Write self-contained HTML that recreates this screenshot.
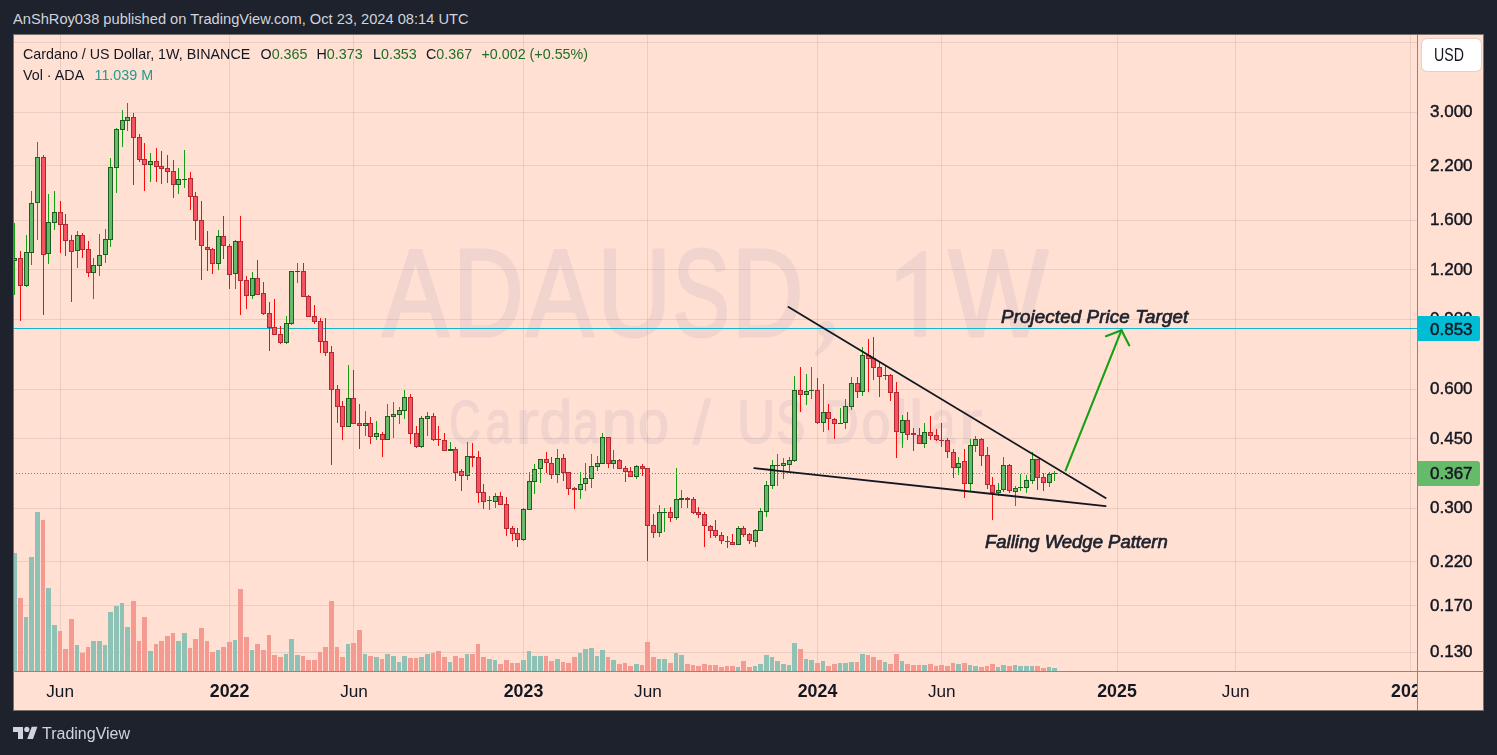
<!DOCTYPE html>
<html><head><meta charset="utf-8">
<style>
html,body{margin:0;padding:0;}
body{width:1497px;height:755px;background:#1e222d;position:relative;overflow:hidden;font-family:"Liberation Sans",sans-serif;}
.t{position:absolute;white-space:nowrap;line-height:1;}
#chart{position:absolute;left:13px;top:34px;width:1470px;height:676px;background:#ffe0d3;}
svg{position:absolute;left:0;top:0;}
.pl{position:absolute;font-size:17px;color:#131722;line-height:1;left:1430px;-webkit-text-stroke:0.45px #131722;}
.tl{position:absolute;font-size:17.2px;color:#131722;line-height:1;transform:translateX(-50%);}
</style></head><body>
<div class="t" style="left:13px;top:12.2px;font-size:14.65px;color:#d1d4dc;transform:scaleY(1.04);transform-origin:left top;">AnShRoy038 published on TradingView.com, Oct 23, 2024 08:14 UTC</div>
<div id="chart"></div>
<svg width="1497" height="755" viewBox="0 0 1497 755" shape-rendering="crispEdges">
<clipPath id="pane"><rect x="13" y="34" width="1404" height="637"/></clipPath>
<g clip-path="url(#pane)">
<g opacity="0.105" fill="rgb(130,105,165)" stroke="rgb(130,105,165)" stroke-linejoin="round" font-family="Liberation Sans" shape-rendering="auto"><g stroke-width="3"><text transform="translate(382.20,335.7) scale(0.804,1)" x="0" y="0" font-size="124">A</text>
<text transform="translate(453.22,335.7) scale(0.785,1)" x="0" y="0" font-size="124">D</text>
<text transform="translate(526.40,335.7) scale(0.811,1)" x="0" y="0" font-size="124">A</text>
<text transform="translate(597.13,335.7) scale(0.825,1)" x="0" y="0" font-size="124">U</text>
<text transform="translate(672.86,335.7) scale(0.689,1)" x="0" y="0" font-size="124">S</text>
<text transform="translate(731.87,335.7) scale(0.800,1)" x="0" y="0" font-size="124">D</text>
<text transform="translate(948.47,335.7) scale(0.850,1)" x="0" y="0" font-size="124">W</text></g><g stroke="none"><path d="M914.1,336.8 L926,336.8 L926,251.1 L921.8,251.1 L896.4,271.3 L896.4,281.8 L914.1,272.3 Z"/><path d="M826,321 C831,321 835,324 835,330 C835,340 828,350 816,356 L814.5,353 C820,348 823,343 824,337 C821,336 818,333 818,329 C818,324 822,321 826,321 Z"/></g><g stroke-width="1.6"><text transform="translate(449.13,443.3) scale(0.713,1)" x="0" y="0" font-size="61">C</text>
<text transform="translate(485.87,443.3) scale(0.751,1)" x="0" y="0" font-size="61">a</text>
<text transform="translate(515.70,443.3) scale(1.134,1)" x="0" y="0" font-size="61">r</text>
<text transform="translate(539.45,443.3) scale(0.962,1)" x="0" y="0" font-size="61">d</text>
<text transform="translate(573.37,443.3) scale(0.751,1)" x="0" y="0" font-size="61">a</text>
<text transform="translate(601.62,443.3) scale(1.053,1)" x="0" y="0" font-size="61">n</text>
<text transform="translate(637.88,443.3) scale(0.911,1)" x="0" y="0" font-size="61">o</text>
<text transform="translate(693.30,443.3) scale(1.001,1)" x="0" y="0" font-size="61">/</text>
<text transform="translate(737.03,443.3) scale(0.869,1)" x="0" y="0" font-size="61">U</text>
<text transform="translate(776.47,443.3) scale(0.701,1)" x="0" y="0" font-size="61">S</text>
<text transform="translate(823.17,443.3) scale(0.805,1)" x="0" y="0" font-size="61">D</text>
<text transform="translate(861.43,443.3) scale(0.849,1)" x="0" y="0" font-size="61">o</text>
<text transform="translate(892.94,443.3) scale(1.075,1)" x="0" y="0" font-size="61">l</text>
<text transform="translate(909.40,443.3) scale(0.984,1)" x="0" y="0" font-size="61">l</text>
<text transform="translate(930.88,443.3) scale(0.707,1)" x="0" y="0" font-size="61">a</text>
<text transform="translate(959.15,443.3) scale(1.121,1)" x="0" y="0" font-size="61">r</text></g></g>
<rect x="13" y="42" width="1404" height="1" fill="rgba(90,70,70,0.12)"/>
<rect x="13" y="112" width="1404" height="1" fill="rgba(90,70,70,0.12)"/>
<rect x="13" y="165" width="1404" height="1" fill="rgba(90,70,70,0.12)"/>
<rect x="13" y="220" width="1404" height="1" fill="rgba(90,70,70,0.12)"/>
<rect x="13" y="269" width="1404" height="1" fill="rgba(90,70,70,0.12)"/>
<rect x="13" y="319" width="1404" height="1" fill="rgba(90,70,70,0.12)"/>
<rect x="13" y="389" width="1404" height="1" fill="rgba(90,70,70,0.12)"/>
<rect x="13" y="438" width="1404" height="1" fill="rgba(90,70,70,0.12)"/>
<rect x="13" y="508" width="1404" height="1" fill="rgba(90,70,70,0.12)"/>
<rect x="13" y="561" width="1404" height="1" fill="rgba(90,70,70,0.12)"/>
<rect x="13" y="605" width="1404" height="1" fill="rgba(90,70,70,0.12)"/>
<rect x="13" y="652" width="1404" height="1" fill="rgba(90,70,70,0.12)"/>
<rect x="60" y="34" width="1" height="637" fill="rgba(90,70,70,0.12)"/>
<rect x="229" y="34" width="1" height="637" fill="rgba(90,70,70,0.12)"/>
<rect x="353" y="34" width="1" height="637" fill="rgba(90,70,70,0.12)"/>
<rect x="523" y="34" width="1" height="637" fill="rgba(90,70,70,0.12)"/>
<rect x="647" y="34" width="1" height="637" fill="rgba(90,70,70,0.12)"/>
<rect x="817" y="34" width="1" height="637" fill="rgba(90,70,70,0.12)"/>
<rect x="941" y="34" width="1" height="637" fill="rgba(90,70,70,0.12)"/>
<rect x="1117" y="34" width="1" height="637" fill="rgba(90,70,70,0.12)"/>
<rect x="1235" y="34" width="1" height="637" fill="rgba(90,70,70,0.12)"/>
<rect x="1410" y="34" width="1" height="637" fill="rgba(90,70,70,0.12)"/>
<rect x="13" y="328" width="1404" height="1" fill="#16b5d0"/>
<rect x="14" y="553" width="3" height="118" fill="#8fc2b4"/>
<rect x="18" y="598" width="5" height="73" fill="#f59a90"/>
<rect x="24" y="617" width="4" height="54" fill="#8fc2b4"/>
<rect x="29" y="557" width="5" height="114" fill="#8fc2b4"/>
<rect x="35" y="512" width="5" height="159" fill="#8fc2b4"/>
<rect x="41" y="520" width="4" height="151" fill="#f59a90"/>
<rect x="46" y="588" width="5" height="83" fill="#8fc2b4"/>
<rect x="52" y="625" width="5" height="46" fill="#8fc2b4"/>
<rect x="58" y="631" width="4" height="40" fill="#f59a90"/>
<rect x="63" y="649" width="5" height="22" fill="#f59a90"/>
<rect x="69" y="619" width="5" height="52" fill="#f59a90"/>
<rect x="75" y="645" width="4" height="26" fill="#8fc2b4"/>
<rect x="80" y="653" width="5" height="18" fill="#f59a90"/>
<rect x="86" y="647" width="4" height="24" fill="#f59a90"/>
<rect x="91" y="641" width="5" height="30" fill="#8fc2b4"/>
<rect x="97" y="641" width="5" height="30" fill="#8fc2b4"/>
<rect x="103" y="645" width="4" height="26" fill="#8fc2b4"/>
<rect x="108" y="612" width="5" height="59" fill="#8fc2b4"/>
<rect x="114" y="606" width="5" height="65" fill="#8fc2b4"/>
<rect x="120" y="603" width="4" height="68" fill="#8fc2b4"/>
<rect x="125" y="627" width="5" height="44" fill="#8fc2b4"/>
<rect x="131" y="601" width="5" height="70" fill="#f59a90"/>
<rect x="137" y="641" width="4" height="30" fill="#f59a90"/>
<rect x="142" y="617" width="5" height="54" fill="#f59a90"/>
<rect x="148" y="651" width="5" height="20" fill="#8fc2b4"/>
<rect x="154" y="644" width="4" height="27" fill="#f59a90"/>
<rect x="159" y="641" width="5" height="30" fill="#f59a90"/>
<rect x="165" y="636" width="5" height="35" fill="#f59a90"/>
<rect x="171" y="633" width="4" height="38" fill="#f59a90"/>
<rect x="176" y="641" width="5" height="30" fill="#8fc2b4"/>
<rect x="182" y="633" width="5" height="38" fill="#8fc2b4"/>
<rect x="188" y="648" width="4" height="23" fill="#f59a90"/>
<rect x="193" y="639" width="5" height="32" fill="#f59a90"/>
<rect x="199" y="628" width="5" height="43" fill="#f59a90"/>
<rect x="205" y="641" width="4" height="30" fill="#f59a90"/>
<rect x="210" y="652" width="5" height="19" fill="#f59a90"/>
<rect x="216" y="650" width="4" height="21" fill="#8fc2b4"/>
<rect x="221" y="647" width="5" height="24" fill="#f59a90"/>
<rect x="227" y="642" width="5" height="29" fill="#f59a90"/>
<rect x="233" y="640" width="4" height="31" fill="#8fc2b4"/>
<rect x="238" y="589" width="5" height="82" fill="#f59a90"/>
<rect x="244" y="637" width="5" height="34" fill="#f59a90"/>
<rect x="250" y="650" width="4" height="21" fill="#8fc2b4"/>
<rect x="255" y="644" width="5" height="27" fill="#f59a90"/>
<rect x="261" y="650" width="5" height="21" fill="#f59a90"/>
<rect x="267" y="635" width="4" height="36" fill="#f59a90"/>
<rect x="272" y="655" width="5" height="16" fill="#f59a90"/>
<rect x="278" y="657" width="5" height="14" fill="#f59a90"/>
<rect x="284" y="654" width="4" height="17" fill="#8fc2b4"/>
<rect x="289" y="639" width="5" height="32" fill="#8fc2b4"/>
<rect x="295" y="655" width="5" height="16" fill="#8fc2b4"/>
<rect x="301" y="656" width="4" height="15" fill="#f59a90"/>
<rect x="306" y="660" width="5" height="11" fill="#f59a90"/>
<rect x="312" y="660" width="5" height="11" fill="#f59a90"/>
<rect x="318" y="652" width="4" height="19" fill="#f59a90"/>
<rect x="323" y="647" width="5" height="24" fill="#f59a90"/>
<rect x="329" y="601" width="5" height="70" fill="#f59a90"/>
<rect x="335" y="647" width="4" height="24" fill="#f59a90"/>
<rect x="340" y="657" width="5" height="14" fill="#f59a90"/>
<rect x="346" y="644" width="4" height="27" fill="#8fc2b4"/>
<rect x="351" y="643" width="5" height="28" fill="#f59a90"/>
<rect x="357" y="630" width="5" height="41" fill="#f59a90"/>
<rect x="363" y="654" width="4" height="17" fill="#8fc2b4"/>
<rect x="368" y="656" width="5" height="15" fill="#f59a90"/>
<rect x="374" y="657" width="5" height="14" fill="#8fc2b4"/>
<rect x="380" y="659" width="4" height="12" fill="#f59a90"/>
<rect x="385" y="654" width="5" height="17" fill="#8fc2b4"/>
<rect x="391" y="656" width="5" height="15" fill="#8fc2b4"/>
<rect x="397" y="662" width="4" height="9" fill="#8fc2b4"/>
<rect x="402" y="656" width="5" height="15" fill="#8fc2b4"/>
<rect x="408" y="658" width="5" height="13" fill="#f59a90"/>
<rect x="414" y="658" width="4" height="13" fill="#f59a90"/>
<rect x="419" y="657" width="5" height="14" fill="#8fc2b4"/>
<rect x="425" y="654" width="5" height="17" fill="#8fc2b4"/>
<rect x="431" y="653" width="4" height="18" fill="#f59a90"/>
<rect x="436" y="651" width="5" height="20" fill="#f59a90"/>
<rect x="442" y="657" width="5" height="14" fill="#f59a90"/>
<rect x="448" y="662" width="4" height="9" fill="#8fc2b4"/>
<rect x="453" y="656" width="5" height="15" fill="#f59a90"/>
<rect x="459" y="658" width="5" height="13" fill="#f59a90"/>
<rect x="465" y="654" width="4" height="17" fill="#8fc2b4"/>
<rect x="470" y="654" width="5" height="17" fill="#f59a90"/>
<rect x="476" y="644" width="4" height="27" fill="#f59a90"/>
<rect x="481" y="657" width="5" height="14" fill="#f59a90"/>
<rect x="487" y="659" width="5" height="12" fill="#8fc2b4"/>
<rect x="493" y="660" width="4" height="11" fill="#8fc2b4"/>
<rect x="498" y="664" width="5" height="7" fill="#f59a90"/>
<rect x="504" y="660" width="5" height="11" fill="#f59a90"/>
<rect x="510" y="663" width="4" height="8" fill="#f59a90"/>
<rect x="515" y="663" width="5" height="8" fill="#f59a90"/>
<rect x="521" y="660" width="5" height="11" fill="#8fc2b4"/>
<rect x="527" y="651" width="4" height="20" fill="#8fc2b4"/>
<rect x="532" y="656" width="5" height="15" fill="#8fc2b4"/>
<rect x="538" y="656" width="5" height="15" fill="#8fc2b4"/>
<rect x="544" y="656" width="4" height="15" fill="#f59a90"/>
<rect x="549" y="661" width="5" height="10" fill="#f59a90"/>
<rect x="555" y="659" width="5" height="12" fill="#8fc2b4"/>
<rect x="561" y="662" width="4" height="9" fill="#f59a90"/>
<rect x="566" y="663" width="5" height="8" fill="#f59a90"/>
<rect x="572" y="657" width="5" height="14" fill="#f59a90"/>
<rect x="578" y="653" width="4" height="18" fill="#8fc2b4"/>
<rect x="583" y="649" width="5" height="22" fill="#8fc2b4"/>
<rect x="589" y="648" width="5" height="23" fill="#8fc2b4"/>
<rect x="595" y="656" width="4" height="15" fill="#8fc2b4"/>
<rect x="600" y="650" width="5" height="21" fill="#8fc2b4"/>
<rect x="606" y="657" width="4" height="14" fill="#f59a90"/>
<rect x="611" y="660" width="5" height="11" fill="#8fc2b4"/>
<rect x="617" y="664" width="5" height="7" fill="#f59a90"/>
<rect x="623" y="663" width="4" height="8" fill="#f59a90"/>
<rect x="628" y="666" width="5" height="5" fill="#f59a90"/>
<rect x="634" y="664" width="5" height="7" fill="#8fc2b4"/>
<rect x="640" y="665" width="4" height="6" fill="#f59a90"/>
<rect x="645" y="642" width="5" height="29" fill="#f59a90"/>
<rect x="651" y="657" width="5" height="14" fill="#f59a90"/>
<rect x="657" y="659" width="4" height="12" fill="#8fc2b4"/>
<rect x="662" y="659" width="5" height="12" fill="#8fc2b4"/>
<rect x="668" y="663" width="5" height="8" fill="#f59a90"/>
<rect x="674" y="653" width="4" height="18" fill="#8fc2b4"/>
<rect x="679" y="655" width="5" height="16" fill="#8fc2b4"/>
<rect x="685" y="664" width="5" height="7" fill="#f59a90"/>
<rect x="691" y="665" width="4" height="6" fill="#f59a90"/>
<rect x="696" y="666" width="5" height="5" fill="#f59a90"/>
<rect x="702" y="664" width="5" height="7" fill="#f59a90"/>
<rect x="708" y="665" width="4" height="6" fill="#f59a90"/>
<rect x="713" y="665" width="5" height="6" fill="#f59a90"/>
<rect x="719" y="667" width="5" height="4" fill="#f59a90"/>
<rect x="725" y="666" width="4" height="5" fill="#f59a90"/>
<rect x="730" y="666" width="5" height="5" fill="#f59a90"/>
<rect x="736" y="667" width="4" height="4" fill="#8fc2b4"/>
<rect x="741" y="661" width="5" height="10" fill="#f59a90"/>
<rect x="747" y="667" width="5" height="4" fill="#f59a90"/>
<rect x="753" y="666" width="4" height="5" fill="#8fc2b4"/>
<rect x="758" y="664" width="5" height="7" fill="#8fc2b4"/>
<rect x="764" y="655" width="5" height="16" fill="#8fc2b4"/>
<rect x="770" y="657" width="4" height="14" fill="#8fc2b4"/>
<rect x="775" y="661" width="5" height="10" fill="#8fc2b4"/>
<rect x="781" y="664" width="5" height="7" fill="#8fc2b4"/>
<rect x="787" y="665" width="4" height="6" fill="#8fc2b4"/>
<rect x="792" y="643" width="5" height="28" fill="#8fc2b4"/>
<rect x="798" y="649" width="5" height="22" fill="#f59a90"/>
<rect x="804" y="659" width="4" height="12" fill="#8fc2b4"/>
<rect x="809" y="660" width="5" height="11" fill="#8fc2b4"/>
<rect x="815" y="663" width="5" height="8" fill="#f59a90"/>
<rect x="821" y="661" width="4" height="10" fill="#8fc2b4"/>
<rect x="826" y="666" width="5" height="5" fill="#f59a90"/>
<rect x="832" y="664" width="5" height="7" fill="#f59a90"/>
<rect x="838" y="663" width="4" height="8" fill="#8fc2b4"/>
<rect x="843" y="663" width="5" height="8" fill="#8fc2b4"/>
<rect x="849" y="662" width="5" height="9" fill="#8fc2b4"/>
<rect x="855" y="662" width="4" height="9" fill="#f59a90"/>
<rect x="860" y="654" width="5" height="17" fill="#8fc2b4"/>
<rect x="866" y="655" width="4" height="16" fill="#f59a90"/>
<rect x="871" y="657" width="5" height="14" fill="#f59a90"/>
<rect x="877" y="660" width="5" height="11" fill="#f59a90"/>
<rect x="883" y="662" width="4" height="9" fill="#8fc2b4"/>
<rect x="888" y="664" width="5" height="7" fill="#f59a90"/>
<rect x="894" y="654" width="5" height="17" fill="#f59a90"/>
<rect x="900" y="661" width="4" height="10" fill="#8fc2b4"/>
<rect x="905" y="664" width="5" height="7" fill="#f59a90"/>
<rect x="911" y="665" width="5" height="6" fill="#f59a90"/>
<rect x="917" y="665" width="4" height="6" fill="#f59a90"/>
<rect x="922" y="665" width="5" height="6" fill="#8fc2b4"/>
<rect x="928" y="664" width="5" height="7" fill="#f59a90"/>
<rect x="934" y="666" width="4" height="5" fill="#f59a90"/>
<rect x="939" y="665" width="5" height="6" fill="#f59a90"/>
<rect x="945" y="666" width="5" height="5" fill="#f59a90"/>
<rect x="951" y="663" width="4" height="8" fill="#f59a90"/>
<rect x="956" y="664" width="5" height="7" fill="#8fc2b4"/>
<rect x="962" y="663" width="5" height="8" fill="#f59a90"/>
<rect x="968" y="665" width="4" height="6" fill="#8fc2b4"/>
<rect x="973" y="666" width="5" height="5" fill="#8fc2b4"/>
<rect x="979" y="667" width="5" height="4" fill="#f59a90"/>
<rect x="985" y="666" width="4" height="5" fill="#f59a90"/>
<rect x="990" y="664" width="5" height="7" fill="#f59a90"/>
<rect x="996" y="667" width="4" height="4" fill="#8fc2b4"/>
<rect x="1001" y="665" width="5" height="6" fill="#8fc2b4"/>
<rect x="1007" y="666" width="5" height="5" fill="#f59a90"/>
<rect x="1013" y="665" width="4" height="6" fill="#8fc2b4"/>
<rect x="1018" y="666" width="5" height="5" fill="#8fc2b4"/>
<rect x="1024" y="666" width="5" height="5" fill="#8fc2b4"/>
<rect x="1030" y="666" width="4" height="5" fill="#8fc2b4"/>
<rect x="1035" y="666" width="5" height="5" fill="#f59a90"/>
<rect x="1041" y="668" width="5" height="3" fill="#f59a90"/>
<rect x="1047" y="667" width="4" height="4" fill="#8fc2b4"/>
<rect x="1052" y="668" width="5" height="3" fill="#8fc2b4"/>
<rect x="14" y="223" width="1" height="72" fill="#12a012"/>
<rect x="12" y="258" width="5" height="3" fill="#1b5e20"/>
<rect x="13" y="259" width="3" height="1" fill="#66bb6a"/>
<rect x="20" y="251" width="1" height="70" fill="#ff0a0a"/>
<rect x="18" y="258" width="5" height="28" fill="#b22833"/>
<rect x="19" y="259" width="3" height="26" fill="#f7525f"/>
<rect x="26" y="235" width="1" height="52" fill="#12a012"/>
<rect x="24" y="252" width="5" height="34" fill="#1b5e20"/>
<rect x="25" y="253" width="3" height="32" fill="#66bb6a"/>
<rect x="31" y="191" width="1" height="74" fill="#12a012"/>
<rect x="29" y="203" width="5" height="50" fill="#1b5e20"/>
<rect x="30" y="204" width="3" height="48" fill="#66bb6a"/>
<rect x="37" y="142" width="1" height="98" fill="#12a012"/>
<rect x="35" y="157" width="5" height="46" fill="#1b5e20"/>
<rect x="36" y="158" width="3" height="44" fill="#66bb6a"/>
<rect x="43" y="155" width="1" height="160" fill="#ff0a0a"/>
<rect x="41" y="157" width="5" height="98" fill="#b22833"/>
<rect x="42" y="158" width="3" height="96" fill="#f7525f"/>
<rect x="48" y="194" width="1" height="70" fill="#12a012"/>
<rect x="46" y="222" width="5" height="32" fill="#1b5e20"/>
<rect x="47" y="223" width="3" height="30" fill="#66bb6a"/>
<rect x="54" y="191" width="1" height="39" fill="#12a012"/>
<rect x="52" y="212" width="5" height="11" fill="#1b5e20"/>
<rect x="53" y="213" width="3" height="9" fill="#66bb6a"/>
<rect x="60" y="201" width="1" height="52" fill="#ff0a0a"/>
<rect x="58" y="212" width="5" height="13" fill="#b22833"/>
<rect x="59" y="213" width="3" height="11" fill="#f7525f"/>
<rect x="65" y="214" width="1" height="42" fill="#ff0a0a"/>
<rect x="63" y="224" width="5" height="17" fill="#b22833"/>
<rect x="64" y="225" width="3" height="15" fill="#f7525f"/>
<rect x="71" y="235" width="1" height="67" fill="#ff0a0a"/>
<rect x="69" y="240" width="5" height="12" fill="#b22833"/>
<rect x="70" y="241" width="3" height="10" fill="#f7525f"/>
<rect x="77" y="231" width="1" height="37" fill="#12a012"/>
<rect x="75" y="235" width="5" height="16" fill="#1b5e20"/>
<rect x="76" y="236" width="3" height="14" fill="#66bb6a"/>
<rect x="82" y="233" width="1" height="25" fill="#ff0a0a"/>
<rect x="80" y="235" width="5" height="15" fill="#b22833"/>
<rect x="81" y="236" width="3" height="13" fill="#f7525f"/>
<rect x="88" y="241" width="1" height="36" fill="#ff0a0a"/>
<rect x="86" y="249" width="5" height="24" fill="#b22833"/>
<rect x="87" y="250" width="3" height="22" fill="#f7525f"/>
<rect x="93" y="258" width="1" height="41" fill="#12a012"/>
<rect x="91" y="265" width="5" height="8" fill="#1b5e20"/>
<rect x="92" y="266" width="3" height="6" fill="#66bb6a"/>
<rect x="99" y="234" width="1" height="42" fill="#12a012"/>
<rect x="97" y="255" width="5" height="11" fill="#1b5e20"/>
<rect x="98" y="256" width="3" height="9" fill="#66bb6a"/>
<rect x="105" y="229" width="1" height="34" fill="#12a012"/>
<rect x="103" y="239" width="5" height="16" fill="#1b5e20"/>
<rect x="104" y="240" width="3" height="14" fill="#66bb6a"/>
<rect x="110" y="158" width="1" height="89" fill="#12a012"/>
<rect x="108" y="167" width="5" height="73" fill="#1b5e20"/>
<rect x="109" y="168" width="3" height="71" fill="#66bb6a"/>
<rect x="116" y="128" width="1" height="65" fill="#12a012"/>
<rect x="114" y="129" width="5" height="39" fill="#1b5e20"/>
<rect x="115" y="130" width="3" height="37" fill="#66bb6a"/>
<rect x="122" y="110" width="1" height="37" fill="#12a012"/>
<rect x="120" y="120" width="5" height="10" fill="#1b5e20"/>
<rect x="121" y="121" width="3" height="8" fill="#66bb6a"/>
<rect x="127" y="103" width="1" height="28" fill="#12a012"/>
<rect x="125" y="117" width="5" height="4" fill="#1b5e20"/>
<rect x="126" y="118" width="3" height="2" fill="#66bb6a"/>
<rect x="133" y="113" width="1" height="72" fill="#ff0a0a"/>
<rect x="131" y="117" width="5" height="21" fill="#b22833"/>
<rect x="132" y="118" width="3" height="19" fill="#f7525f"/>
<rect x="139" y="134" width="1" height="28" fill="#ff0a0a"/>
<rect x="137" y="137" width="5" height="23" fill="#b22833"/>
<rect x="138" y="138" width="3" height="21" fill="#f7525f"/>
<rect x="144" y="143" width="1" height="48" fill="#ff0a0a"/>
<rect x="142" y="159" width="5" height="6" fill="#b22833"/>
<rect x="143" y="160" width="3" height="4" fill="#f7525f"/>
<rect x="150" y="153" width="1" height="29" fill="#12a012"/>
<rect x="148" y="161" width="5" height="4" fill="#1b5e20"/>
<rect x="149" y="162" width="3" height="2" fill="#66bb6a"/>
<rect x="156" y="148" width="1" height="34" fill="#ff0a0a"/>
<rect x="154" y="161" width="5" height="6" fill="#b22833"/>
<rect x="155" y="162" width="3" height="4" fill="#f7525f"/>
<rect x="161" y="151" width="1" height="33" fill="#ff0a0a"/>
<rect x="159" y="166" width="5" height="3" fill="#b22833"/>
<rect x="160" y="167" width="3" height="1" fill="#f7525f"/>
<rect x="167" y="155" width="1" height="28" fill="#ff0a0a"/>
<rect x="165" y="168" width="5" height="4" fill="#b22833"/>
<rect x="166" y="169" width="3" height="2" fill="#f7525f"/>
<rect x="173" y="160" width="1" height="38" fill="#ff0a0a"/>
<rect x="171" y="171" width="5" height="14" fill="#b22833"/>
<rect x="172" y="172" width="3" height="12" fill="#f7525f"/>
<rect x="178" y="168" width="1" height="26" fill="#12a012"/>
<rect x="176" y="179" width="5" height="6" fill="#1b5e20"/>
<rect x="177" y="180" width="3" height="4" fill="#66bb6a"/>
<rect x="184" y="150" width="1" height="38" fill="#12a012"/>
<rect x="182" y="179" width="5" height="1" fill="#1b5e20"/>
<rect x="190" y="172" width="1" height="38" fill="#ff0a0a"/>
<rect x="188" y="178" width="5" height="19" fill="#b22833"/>
<rect x="189" y="179" width="3" height="17" fill="#f7525f"/>
<rect x="195" y="192" width="1" height="48" fill="#ff0a0a"/>
<rect x="193" y="196" width="5" height="25" fill="#b22833"/>
<rect x="194" y="197" width="3" height="23" fill="#f7525f"/>
<rect x="201" y="201" width="1" height="79" fill="#ff0a0a"/>
<rect x="199" y="220" width="5" height="26" fill="#b22833"/>
<rect x="200" y="221" width="3" height="24" fill="#f7525f"/>
<rect x="207" y="231" width="1" height="40" fill="#ff0a0a"/>
<rect x="205" y="247" width="5" height="3" fill="#b22833"/>
<rect x="206" y="248" width="3" height="1" fill="#f7525f"/>
<rect x="212" y="248" width="1" height="26" fill="#ff0a0a"/>
<rect x="210" y="249" width="5" height="15" fill="#b22833"/>
<rect x="211" y="250" width="3" height="13" fill="#f7525f"/>
<rect x="218" y="230" width="1" height="40" fill="#12a012"/>
<rect x="216" y="236" width="5" height="28" fill="#1b5e20"/>
<rect x="217" y="237" width="3" height="26" fill="#66bb6a"/>
<rect x="223" y="216" width="1" height="43" fill="#ff0a0a"/>
<rect x="221" y="236" width="5" height="10" fill="#b22833"/>
<rect x="222" y="237" width="3" height="8" fill="#f7525f"/>
<rect x="229" y="244" width="1" height="45" fill="#ff0a0a"/>
<rect x="227" y="246" width="5" height="29" fill="#b22833"/>
<rect x="228" y="247" width="3" height="27" fill="#f7525f"/>
<rect x="235" y="240" width="1" height="49" fill="#12a012"/>
<rect x="233" y="241" width="5" height="33" fill="#1b5e20"/>
<rect x="234" y="242" width="3" height="31" fill="#66bb6a"/>
<rect x="240" y="216" width="1" height="99" fill="#ff0a0a"/>
<rect x="238" y="241" width="5" height="40" fill="#b22833"/>
<rect x="239" y="242" width="3" height="38" fill="#f7525f"/>
<rect x="246" y="276" width="1" height="33" fill="#ff0a0a"/>
<rect x="244" y="280" width="5" height="16" fill="#b22833"/>
<rect x="245" y="281" width="3" height="14" fill="#f7525f"/>
<rect x="252" y="272" width="1" height="27" fill="#12a012"/>
<rect x="250" y="278" width="5" height="18" fill="#1b5e20"/>
<rect x="251" y="279" width="3" height="16" fill="#66bb6a"/>
<rect x="257" y="260" width="1" height="35" fill="#ff0a0a"/>
<rect x="255" y="278" width="5" height="17" fill="#b22833"/>
<rect x="256" y="279" width="3" height="15" fill="#f7525f"/>
<rect x="263" y="282" width="1" height="33" fill="#ff0a0a"/>
<rect x="261" y="293" width="5" height="21" fill="#b22833"/>
<rect x="262" y="294" width="3" height="19" fill="#f7525f"/>
<rect x="269" y="302" width="1" height="49" fill="#ff0a0a"/>
<rect x="267" y="313" width="5" height="15" fill="#b22833"/>
<rect x="268" y="314" width="3" height="13" fill="#f7525f"/>
<rect x="274" y="299" width="1" height="36" fill="#ff0a0a"/>
<rect x="272" y="327" width="5" height="8" fill="#b22833"/>
<rect x="273" y="328" width="3" height="6" fill="#f7525f"/>
<rect x="280" y="326" width="1" height="18" fill="#ff0a0a"/>
<rect x="278" y="334" width="5" height="9" fill="#b22833"/>
<rect x="279" y="335" width="3" height="7" fill="#f7525f"/>
<rect x="286" y="316" width="1" height="28" fill="#12a012"/>
<rect x="284" y="323" width="5" height="20" fill="#1b5e20"/>
<rect x="285" y="324" width="3" height="18" fill="#66bb6a"/>
<rect x="291" y="271" width="1" height="54" fill="#12a012"/>
<rect x="289" y="271" width="5" height="53" fill="#1b5e20"/>
<rect x="290" y="272" width="3" height="51" fill="#66bb6a"/>
<rect x="297" y="263" width="1" height="20" fill="#12a012"/>
<rect x="295" y="271" width="5" height="1" fill="#1b5e20"/>
<rect x="303" y="263" width="1" height="34" fill="#ff0a0a"/>
<rect x="301" y="271" width="5" height="26" fill="#b22833"/>
<rect x="302" y="272" width="3" height="24" fill="#f7525f"/>
<rect x="308" y="295" width="1" height="22" fill="#ff0a0a"/>
<rect x="306" y="296" width="5" height="21" fill="#b22833"/>
<rect x="307" y="297" width="3" height="19" fill="#f7525f"/>
<rect x="314" y="305" width="1" height="19" fill="#ff0a0a"/>
<rect x="312" y="316" width="5" height="6" fill="#b22833"/>
<rect x="313" y="317" width="3" height="4" fill="#f7525f"/>
<rect x="320" y="318" width="1" height="35" fill="#ff0a0a"/>
<rect x="318" y="321" width="5" height="21" fill="#b22833"/>
<rect x="319" y="322" width="3" height="19" fill="#f7525f"/>
<rect x="325" y="318" width="1" height="38" fill="#ff0a0a"/>
<rect x="323" y="341" width="5" height="12" fill="#b22833"/>
<rect x="324" y="342" width="3" height="10" fill="#f7525f"/>
<rect x="331" y="346" width="1" height="119" fill="#ff0a0a"/>
<rect x="329" y="352" width="5" height="38" fill="#b22833"/>
<rect x="330" y="353" width="3" height="36" fill="#f7525f"/>
<rect x="337" y="385" width="1" height="38" fill="#ff0a0a"/>
<rect x="335" y="389" width="5" height="18" fill="#b22833"/>
<rect x="336" y="390" width="3" height="16" fill="#f7525f"/>
<rect x="342" y="401" width="1" height="39" fill="#ff0a0a"/>
<rect x="340" y="406" width="5" height="21" fill="#b22833"/>
<rect x="341" y="407" width="3" height="19" fill="#f7525f"/>
<rect x="348" y="365" width="1" height="62" fill="#12a012"/>
<rect x="346" y="398" width="5" height="29" fill="#1b5e20"/>
<rect x="347" y="399" width="3" height="27" fill="#66bb6a"/>
<rect x="353" y="370" width="1" height="54" fill="#ff0a0a"/>
<rect x="351" y="398" width="5" height="26" fill="#b22833"/>
<rect x="352" y="399" width="3" height="24" fill="#f7525f"/>
<rect x="359" y="404" width="1" height="45" fill="#ff0a0a"/>
<rect x="357" y="423" width="5" height="3" fill="#b22833"/>
<rect x="358" y="424" width="3" height="1" fill="#f7525f"/>
<rect x="365" y="411" width="1" height="25" fill="#12a012"/>
<rect x="363" y="423" width="5" height="3" fill="#1b5e20"/>
<rect x="364" y="424" width="3" height="1" fill="#66bb6a"/>
<rect x="370" y="417" width="1" height="27" fill="#ff0a0a"/>
<rect x="368" y="423" width="5" height="14" fill="#b22833"/>
<rect x="369" y="424" width="3" height="12" fill="#f7525f"/>
<rect x="376" y="421" width="1" height="19" fill="#12a012"/>
<rect x="374" y="433" width="5" height="4" fill="#1b5e20"/>
<rect x="375" y="434" width="3" height="2" fill="#66bb6a"/>
<rect x="382" y="432" width="1" height="25" fill="#ff0a0a"/>
<rect x="380" y="434" width="5" height="6" fill="#b22833"/>
<rect x="381" y="435" width="3" height="4" fill="#f7525f"/>
<rect x="387" y="404" width="1" height="36" fill="#12a012"/>
<rect x="385" y="416" width="5" height="24" fill="#1b5e20"/>
<rect x="386" y="417" width="3" height="22" fill="#66bb6a"/>
<rect x="393" y="402" width="1" height="36" fill="#12a012"/>
<rect x="391" y="414" width="5" height="3" fill="#1b5e20"/>
<rect x="392" y="415" width="3" height="1" fill="#66bb6a"/>
<rect x="399" y="407" width="1" height="17" fill="#12a012"/>
<rect x="397" y="410" width="5" height="5" fill="#1b5e20"/>
<rect x="398" y="411" width="3" height="3" fill="#66bb6a"/>
<rect x="404" y="390" width="1" height="29" fill="#12a012"/>
<rect x="402" y="397" width="5" height="14" fill="#1b5e20"/>
<rect x="403" y="398" width="3" height="12" fill="#66bb6a"/>
<rect x="410" y="394" width="1" height="50" fill="#ff0a0a"/>
<rect x="408" y="397" width="5" height="37" fill="#b22833"/>
<rect x="409" y="398" width="3" height="35" fill="#f7525f"/>
<rect x="416" y="426" width="1" height="22" fill="#ff0a0a"/>
<rect x="414" y="433" width="5" height="14" fill="#b22833"/>
<rect x="415" y="434" width="3" height="12" fill="#f7525f"/>
<rect x="421" y="416" width="1" height="32" fill="#12a012"/>
<rect x="419" y="418" width="5" height="29" fill="#1b5e20"/>
<rect x="420" y="419" width="3" height="27" fill="#66bb6a"/>
<rect x="427" y="412" width="1" height="24" fill="#12a012"/>
<rect x="425" y="416" width="5" height="3" fill="#1b5e20"/>
<rect x="426" y="417" width="3" height="1" fill="#66bb6a"/>
<rect x="433" y="413" width="1" height="28" fill="#ff0a0a"/>
<rect x="431" y="416" width="5" height="24" fill="#b22833"/>
<rect x="432" y="417" width="3" height="22" fill="#f7525f"/>
<rect x="438" y="426" width="1" height="20" fill="#ff0a0a"/>
<rect x="436" y="439" width="5" height="1" fill="#b22833"/>
<rect x="444" y="433" width="1" height="18" fill="#ff0a0a"/>
<rect x="442" y="440" width="5" height="11" fill="#b22833"/>
<rect x="443" y="441" width="3" height="9" fill="#f7525f"/>
<rect x="450" y="442" width="1" height="9" fill="#12a012"/>
<rect x="448" y="449" width="5" height="2" fill="#1b5e20"/>
<rect x="455" y="447" width="1" height="34" fill="#ff0a0a"/>
<rect x="453" y="449" width="5" height="24" fill="#b22833"/>
<rect x="454" y="450" width="3" height="22" fill="#f7525f"/>
<rect x="461" y="469" width="1" height="22" fill="#ff0a0a"/>
<rect x="459" y="471" width="5" height="5" fill="#b22833"/>
<rect x="460" y="472" width="3" height="3" fill="#f7525f"/>
<rect x="467" y="442" width="1" height="38" fill="#12a012"/>
<rect x="465" y="456" width="5" height="20" fill="#1b5e20"/>
<rect x="466" y="457" width="3" height="18" fill="#66bb6a"/>
<rect x="472" y="443" width="1" height="24" fill="#ff0a0a"/>
<rect x="470" y="456" width="5" height="2" fill="#b22833"/>
<rect x="478" y="451" width="1" height="52" fill="#ff0a0a"/>
<rect x="476" y="457" width="5" height="36" fill="#b22833"/>
<rect x="477" y="458" width="3" height="34" fill="#f7525f"/>
<rect x="483" y="484" width="1" height="25" fill="#ff0a0a"/>
<rect x="481" y="492" width="5" height="10" fill="#b22833"/>
<rect x="482" y="493" width="3" height="8" fill="#f7525f"/>
<rect x="489" y="496" width="1" height="14" fill="#12a012"/>
<rect x="487" y="500" width="5" height="1" fill="#1b5e20"/>
<rect x="495" y="493" width="1" height="15" fill="#12a012"/>
<rect x="493" y="496" width="5" height="6" fill="#1b5e20"/>
<rect x="494" y="497" width="3" height="4" fill="#66bb6a"/>
<rect x="500" y="492" width="1" height="13" fill="#ff0a0a"/>
<rect x="498" y="496" width="5" height="9" fill="#b22833"/>
<rect x="499" y="497" width="3" height="7" fill="#f7525f"/>
<rect x="506" y="497" width="1" height="39" fill="#ff0a0a"/>
<rect x="504" y="504" width="5" height="25" fill="#b22833"/>
<rect x="505" y="505" width="3" height="23" fill="#f7525f"/>
<rect x="512" y="526" width="1" height="15" fill="#ff0a0a"/>
<rect x="510" y="528" width="5" height="6" fill="#b22833"/>
<rect x="511" y="529" width="3" height="4" fill="#f7525f"/>
<rect x="517" y="528" width="1" height="19" fill="#ff0a0a"/>
<rect x="515" y="533" width="5" height="7" fill="#b22833"/>
<rect x="516" y="534" width="3" height="5" fill="#f7525f"/>
<rect x="523" y="508" width="1" height="33" fill="#12a012"/>
<rect x="521" y="509" width="5" height="31" fill="#1b5e20"/>
<rect x="522" y="510" width="3" height="29" fill="#66bb6a"/>
<rect x="529" y="472" width="1" height="38" fill="#12a012"/>
<rect x="527" y="481" width="5" height="29" fill="#1b5e20"/>
<rect x="528" y="482" width="3" height="27" fill="#66bb6a"/>
<rect x="534" y="464" width="1" height="30" fill="#12a012"/>
<rect x="532" y="469" width="5" height="13" fill="#1b5e20"/>
<rect x="533" y="470" width="3" height="11" fill="#66bb6a"/>
<rect x="540" y="459" width="1" height="24" fill="#12a012"/>
<rect x="538" y="459" width="5" height="10" fill="#1b5e20"/>
<rect x="539" y="460" width="3" height="8" fill="#66bb6a"/>
<rect x="546" y="452" width="1" height="21" fill="#ff0a0a"/>
<rect x="544" y="459" width="5" height="4" fill="#b22833"/>
<rect x="545" y="460" width="3" height="2" fill="#f7525f"/>
<rect x="551" y="457" width="1" height="22" fill="#ff0a0a"/>
<rect x="549" y="463" width="5" height="12" fill="#b22833"/>
<rect x="550" y="464" width="3" height="10" fill="#f7525f"/>
<rect x="557" y="449" width="1" height="34" fill="#12a012"/>
<rect x="555" y="458" width="5" height="17" fill="#1b5e20"/>
<rect x="556" y="459" width="3" height="15" fill="#66bb6a"/>
<rect x="563" y="454" width="1" height="27" fill="#ff0a0a"/>
<rect x="561" y="458" width="5" height="15" fill="#b22833"/>
<rect x="562" y="459" width="3" height="13" fill="#f7525f"/>
<rect x="568" y="472" width="1" height="23" fill="#ff0a0a"/>
<rect x="566" y="472" width="5" height="17" fill="#b22833"/>
<rect x="567" y="473" width="3" height="15" fill="#f7525f"/>
<rect x="574" y="487" width="1" height="22" fill="#ff0a0a"/>
<rect x="572" y="488" width="5" height="2" fill="#b22833"/>
<rect x="580" y="472" width="1" height="27" fill="#12a012"/>
<rect x="578" y="484" width="5" height="6" fill="#1b5e20"/>
<rect x="579" y="485" width="3" height="4" fill="#66bb6a"/>
<rect x="585" y="463" width="1" height="28" fill="#12a012"/>
<rect x="583" y="478" width="5" height="6" fill="#1b5e20"/>
<rect x="584" y="479" width="3" height="4" fill="#66bb6a"/>
<rect x="591" y="454" width="1" height="34" fill="#12a012"/>
<rect x="589" y="466" width="5" height="13" fill="#1b5e20"/>
<rect x="590" y="467" width="3" height="11" fill="#66bb6a"/>
<rect x="597" y="456" width="1" height="15" fill="#12a012"/>
<rect x="595" y="463" width="5" height="4" fill="#1b5e20"/>
<rect x="596" y="464" width="3" height="2" fill="#66bb6a"/>
<rect x="602" y="433" width="1" height="31" fill="#12a012"/>
<rect x="600" y="437" width="5" height="27" fill="#1b5e20"/>
<rect x="601" y="438" width="3" height="25" fill="#66bb6a"/>
<rect x="608" y="437" width="1" height="31" fill="#ff0a0a"/>
<rect x="606" y="437" width="5" height="27" fill="#b22833"/>
<rect x="607" y="438" width="3" height="25" fill="#f7525f"/>
<rect x="613" y="450" width="1" height="19" fill="#12a012"/>
<rect x="611" y="460" width="5" height="4" fill="#1b5e20"/>
<rect x="612" y="461" width="3" height="2" fill="#66bb6a"/>
<rect x="619" y="459" width="1" height="10" fill="#ff0a0a"/>
<rect x="617" y="460" width="5" height="9" fill="#b22833"/>
<rect x="618" y="461" width="3" height="7" fill="#f7525f"/>
<rect x="625" y="466" width="1" height="16" fill="#ff0a0a"/>
<rect x="623" y="468" width="5" height="4" fill="#b22833"/>
<rect x="624" y="469" width="3" height="2" fill="#f7525f"/>
<rect x="630" y="467" width="1" height="10" fill="#ff0a0a"/>
<rect x="628" y="471" width="5" height="6" fill="#b22833"/>
<rect x="629" y="472" width="3" height="4" fill="#f7525f"/>
<rect x="636" y="465" width="1" height="14" fill="#12a012"/>
<rect x="634" y="466" width="5" height="11" fill="#1b5e20"/>
<rect x="635" y="467" width="3" height="9" fill="#66bb6a"/>
<rect x="642" y="464" width="1" height="12" fill="#ff0a0a"/>
<rect x="640" y="466" width="5" height="3" fill="#b22833"/>
<rect x="641" y="467" width="3" height="1" fill="#f7525f"/>
<rect x="647" y="468" width="1" height="93" fill="#ff0a0a"/>
<rect x="645" y="468" width="5" height="58" fill="#b22833"/>
<rect x="646" y="469" width="3" height="56" fill="#f7525f"/>
<rect x="653" y="514" width="1" height="24" fill="#ff0a0a"/>
<rect x="651" y="525" width="5" height="8" fill="#b22833"/>
<rect x="652" y="526" width="3" height="6" fill="#f7525f"/>
<rect x="659" y="505" width="1" height="32" fill="#12a012"/>
<rect x="657" y="512" width="5" height="21" fill="#1b5e20"/>
<rect x="658" y="513" width="3" height="19" fill="#66bb6a"/>
<rect x="664" y="508" width="1" height="24" fill="#12a012"/>
<rect x="662" y="512" width="5" height="1" fill="#1b5e20"/>
<rect x="670" y="507" width="1" height="15" fill="#ff0a0a"/>
<rect x="668" y="512" width="5" height="6" fill="#b22833"/>
<rect x="669" y="513" width="3" height="4" fill="#f7525f"/>
<rect x="676" y="468" width="1" height="52" fill="#12a012"/>
<rect x="674" y="499" width="5" height="19" fill="#1b5e20"/>
<rect x="675" y="500" width="3" height="17" fill="#66bb6a"/>
<rect x="681" y="490" width="1" height="18" fill="#12a012"/>
<rect x="679" y="498" width="5" height="2" fill="#1b5e20"/>
<rect x="687" y="497" width="1" height="11" fill="#ff0a0a"/>
<rect x="685" y="498" width="5" height="2" fill="#b22833"/>
<rect x="693" y="497" width="1" height="17" fill="#ff0a0a"/>
<rect x="691" y="499" width="5" height="14" fill="#b22833"/>
<rect x="692" y="500" width="3" height="12" fill="#f7525f"/>
<rect x="698" y="507" width="1" height="11" fill="#ff0a0a"/>
<rect x="696" y="512" width="5" height="3" fill="#b22833"/>
<rect x="697" y="513" width="3" height="1" fill="#f7525f"/>
<rect x="704" y="512" width="1" height="35" fill="#ff0a0a"/>
<rect x="702" y="514" width="5" height="12" fill="#b22833"/>
<rect x="703" y="515" width="3" height="10" fill="#f7525f"/>
<rect x="710" y="525" width="1" height="13" fill="#ff0a0a"/>
<rect x="708" y="526" width="5" height="5" fill="#b22833"/>
<rect x="709" y="527" width="3" height="3" fill="#f7525f"/>
<rect x="715" y="520" width="1" height="18" fill="#ff0a0a"/>
<rect x="713" y="530" width="5" height="6" fill="#b22833"/>
<rect x="714" y="531" width="3" height="4" fill="#f7525f"/>
<rect x="721" y="532" width="1" height="12" fill="#ff0a0a"/>
<rect x="719" y="535" width="5" height="6" fill="#b22833"/>
<rect x="720" y="536" width="3" height="4" fill="#f7525f"/>
<rect x="727" y="536" width="1" height="12" fill="#ff0a0a"/>
<rect x="725" y="541" width="5" height="1" fill="#b22833"/>
<rect x="732" y="534" width="1" height="11" fill="#ff0a0a"/>
<rect x="730" y="542" width="5" height="3" fill="#b22833"/>
<rect x="731" y="543" width="3" height="1" fill="#f7525f"/>
<rect x="738" y="526" width="1" height="19" fill="#12a012"/>
<rect x="736" y="528" width="5" height="17" fill="#1b5e20"/>
<rect x="737" y="529" width="3" height="15" fill="#66bb6a"/>
<rect x="743" y="526" width="1" height="11" fill="#ff0a0a"/>
<rect x="741" y="528" width="5" height="7" fill="#b22833"/>
<rect x="742" y="529" width="3" height="5" fill="#f7525f"/>
<rect x="749" y="533" width="1" height="11" fill="#ff0a0a"/>
<rect x="747" y="534" width="5" height="7" fill="#b22833"/>
<rect x="748" y="535" width="3" height="5" fill="#f7525f"/>
<rect x="755" y="529" width="1" height="18" fill="#12a012"/>
<rect x="753" y="530" width="5" height="12" fill="#1b5e20"/>
<rect x="754" y="531" width="3" height="10" fill="#66bb6a"/>
<rect x="760" y="508" width="1" height="22" fill="#12a012"/>
<rect x="758" y="511" width="5" height="20" fill="#1b5e20"/>
<rect x="759" y="512" width="3" height="18" fill="#66bb6a"/>
<rect x="766" y="481" width="1" height="36" fill="#12a012"/>
<rect x="764" y="485" width="5" height="27" fill="#1b5e20"/>
<rect x="765" y="486" width="3" height="25" fill="#66bb6a"/>
<rect x="772" y="460" width="1" height="29" fill="#12a012"/>
<rect x="770" y="465" width="5" height="21" fill="#1b5e20"/>
<rect x="771" y="466" width="3" height="19" fill="#66bb6a"/>
<rect x="777" y="454" width="1" height="32" fill="#12a012"/>
<rect x="775" y="465" width="5" height="1" fill="#1b5e20"/>
<rect x="783" y="458" width="1" height="21" fill="#12a012"/>
<rect x="781" y="463" width="5" height="3" fill="#1b5e20"/>
<rect x="782" y="464" width="3" height="1" fill="#66bb6a"/>
<rect x="789" y="457" width="1" height="14" fill="#12a012"/>
<rect x="787" y="460" width="5" height="5" fill="#1b5e20"/>
<rect x="788" y="461" width="3" height="3" fill="#66bb6a"/>
<rect x="794" y="376" width="1" height="86" fill="#12a012"/>
<rect x="792" y="390" width="5" height="71" fill="#1b5e20"/>
<rect x="793" y="391" width="3" height="69" fill="#66bb6a"/>
<rect x="800" y="367" width="1" height="45" fill="#ff0a0a"/>
<rect x="798" y="390" width="5" height="5" fill="#b22833"/>
<rect x="799" y="391" width="3" height="3" fill="#f7525f"/>
<rect x="806" y="374" width="1" height="31" fill="#12a012"/>
<rect x="804" y="391" width="5" height="4" fill="#1b5e20"/>
<rect x="805" y="392" width="3" height="2" fill="#66bb6a"/>
<rect x="811" y="367" width="1" height="32" fill="#12a012"/>
<rect x="809" y="390" width="5" height="1" fill="#1b5e20"/>
<rect x="817" y="378" width="1" height="46" fill="#ff0a0a"/>
<rect x="815" y="390" width="5" height="33" fill="#b22833"/>
<rect x="816" y="391" width="3" height="31" fill="#f7525f"/>
<rect x="823" y="384" width="1" height="48" fill="#12a012"/>
<rect x="821" y="412" width="5" height="11" fill="#1b5e20"/>
<rect x="822" y="413" width="3" height="9" fill="#66bb6a"/>
<rect x="828" y="404" width="1" height="26" fill="#ff0a0a"/>
<rect x="826" y="412" width="5" height="7" fill="#b22833"/>
<rect x="827" y="413" width="3" height="5" fill="#f7525f"/>
<rect x="834" y="418" width="1" height="21" fill="#ff0a0a"/>
<rect x="832" y="419" width="5" height="5" fill="#b22833"/>
<rect x="833" y="420" width="3" height="3" fill="#f7525f"/>
<rect x="840" y="408" width="1" height="16" fill="#12a012"/>
<rect x="838" y="423" width="5" height="1" fill="#1b5e20"/>
<rect x="845" y="399" width="1" height="30" fill="#12a012"/>
<rect x="843" y="406" width="5" height="17" fill="#1b5e20"/>
<rect x="844" y="407" width="3" height="15" fill="#66bb6a"/>
<rect x="851" y="377" width="1" height="33" fill="#12a012"/>
<rect x="849" y="383" width="5" height="24" fill="#1b5e20"/>
<rect x="850" y="384" width="3" height="22" fill="#66bb6a"/>
<rect x="857" y="377" width="1" height="21" fill="#ff0a0a"/>
<rect x="855" y="383" width="5" height="9" fill="#b22833"/>
<rect x="856" y="384" width="3" height="7" fill="#f7525f"/>
<rect x="862" y="347" width="1" height="49" fill="#12a012"/>
<rect x="860" y="355" width="5" height="37" fill="#1b5e20"/>
<rect x="861" y="356" width="3" height="35" fill="#66bb6a"/>
<rect x="868" y="339" width="1" height="53" fill="#ff0a0a"/>
<rect x="866" y="355" width="5" height="4" fill="#b22833"/>
<rect x="867" y="356" width="3" height="2" fill="#f7525f"/>
<rect x="873" y="337" width="1" height="43" fill="#ff0a0a"/>
<rect x="871" y="358" width="5" height="10" fill="#b22833"/>
<rect x="872" y="359" width="3" height="8" fill="#f7525f"/>
<rect x="879" y="362" width="1" height="35" fill="#ff0a0a"/>
<rect x="877" y="367" width="5" height="10" fill="#b22833"/>
<rect x="878" y="368" width="3" height="8" fill="#f7525f"/>
<rect x="885" y="366" width="1" height="14" fill="#12a012"/>
<rect x="883" y="375" width="5" height="1" fill="#1b5e20"/>
<rect x="890" y="374" width="1" height="27" fill="#ff0a0a"/>
<rect x="888" y="375" width="5" height="18" fill="#b22833"/>
<rect x="889" y="376" width="3" height="16" fill="#f7525f"/>
<rect x="896" y="382" width="1" height="76" fill="#ff0a0a"/>
<rect x="894" y="392" width="5" height="40" fill="#b22833"/>
<rect x="895" y="393" width="3" height="38" fill="#f7525f"/>
<rect x="902" y="415" width="1" height="33" fill="#12a012"/>
<rect x="900" y="420" width="5" height="13" fill="#1b5e20"/>
<rect x="901" y="421" width="3" height="11" fill="#66bb6a"/>
<rect x="907" y="412" width="1" height="28" fill="#ff0a0a"/>
<rect x="905" y="420" width="5" height="15" fill="#b22833"/>
<rect x="906" y="421" width="3" height="13" fill="#f7525f"/>
<rect x="913" y="428" width="1" height="23" fill="#ff0a0a"/>
<rect x="911" y="433" width="5" height="2" fill="#b22833"/>
<rect x="919" y="428" width="1" height="16" fill="#ff0a0a"/>
<rect x="917" y="435" width="5" height="9" fill="#b22833"/>
<rect x="918" y="436" width="3" height="7" fill="#f7525f"/>
<rect x="924" y="423" width="1" height="25" fill="#12a012"/>
<rect x="922" y="432" width="5" height="12" fill="#1b5e20"/>
<rect x="923" y="433" width="3" height="10" fill="#66bb6a"/>
<rect x="930" y="416" width="1" height="24" fill="#ff0a0a"/>
<rect x="928" y="432" width="5" height="4" fill="#b22833"/>
<rect x="929" y="433" width="3" height="2" fill="#f7525f"/>
<rect x="936" y="429" width="1" height="12" fill="#ff0a0a"/>
<rect x="934" y="435" width="5" height="5" fill="#b22833"/>
<rect x="935" y="436" width="3" height="3" fill="#f7525f"/>
<rect x="941" y="423" width="1" height="24" fill="#ff0a0a"/>
<rect x="939" y="440" width="5" height="1" fill="#b22833"/>
<rect x="947" y="438" width="1" height="20" fill="#ff0a0a"/>
<rect x="945" y="440" width="5" height="12" fill="#b22833"/>
<rect x="946" y="441" width="3" height="10" fill="#f7525f"/>
<rect x="953" y="449" width="1" height="29" fill="#ff0a0a"/>
<rect x="951" y="452" width="5" height="16" fill="#b22833"/>
<rect x="952" y="453" width="3" height="14" fill="#f7525f"/>
<rect x="958" y="457" width="1" height="18" fill="#12a012"/>
<rect x="956" y="463" width="5" height="5" fill="#1b5e20"/>
<rect x="957" y="464" width="3" height="3" fill="#66bb6a"/>
<rect x="964" y="449" width="1" height="49" fill="#ff0a0a"/>
<rect x="962" y="461" width="5" height="23" fill="#b22833"/>
<rect x="963" y="462" width="3" height="21" fill="#f7525f"/>
<rect x="970" y="439" width="1" height="52" fill="#12a012"/>
<rect x="968" y="445" width="5" height="39" fill="#1b5e20"/>
<rect x="969" y="446" width="3" height="37" fill="#66bb6a"/>
<rect x="975" y="436" width="1" height="16" fill="#12a012"/>
<rect x="973" y="439" width="5" height="7" fill="#1b5e20"/>
<rect x="974" y="440" width="3" height="5" fill="#66bb6a"/>
<rect x="981" y="438" width="1" height="28" fill="#ff0a0a"/>
<rect x="979" y="439" width="5" height="17" fill="#b22833"/>
<rect x="980" y="440" width="3" height="15" fill="#f7525f"/>
<rect x="987" y="447" width="1" height="42" fill="#ff0a0a"/>
<rect x="985" y="455" width="5" height="30" fill="#b22833"/>
<rect x="986" y="456" width="3" height="28" fill="#f7525f"/>
<rect x="992" y="477" width="1" height="43" fill="#ff0a0a"/>
<rect x="990" y="485" width="5" height="8" fill="#b22833"/>
<rect x="991" y="486" width="3" height="6" fill="#f7525f"/>
<rect x="998" y="483" width="1" height="13" fill="#12a012"/>
<rect x="996" y="490" width="5" height="3" fill="#1b5e20"/>
<rect x="997" y="491" width="3" height="1" fill="#66bb6a"/>
<rect x="1003" y="457" width="1" height="35" fill="#12a012"/>
<rect x="1001" y="465" width="5" height="25" fill="#1b5e20"/>
<rect x="1002" y="466" width="3" height="23" fill="#66bb6a"/>
<rect x="1009" y="464" width="1" height="29" fill="#ff0a0a"/>
<rect x="1007" y="465" width="5" height="26" fill="#b22833"/>
<rect x="1008" y="466" width="3" height="24" fill="#f7525f"/>
<rect x="1015" y="486" width="1" height="20" fill="#12a012"/>
<rect x="1013" y="488" width="5" height="4" fill="#1b5e20"/>
<rect x="1014" y="489" width="3" height="2" fill="#66bb6a"/>
<rect x="1020" y="474" width="1" height="17" fill="#12a012"/>
<rect x="1018" y="487" width="5" height="1" fill="#1b5e20"/>
<rect x="1026" y="475" width="1" height="18" fill="#12a012"/>
<rect x="1024" y="480" width="5" height="8" fill="#1b5e20"/>
<rect x="1025" y="481" width="3" height="6" fill="#66bb6a"/>
<rect x="1032" y="452" width="1" height="32" fill="#12a012"/>
<rect x="1030" y="459" width="5" height="22" fill="#1b5e20"/>
<rect x="1031" y="460" width="3" height="20" fill="#66bb6a"/>
<rect x="1037" y="459" width="1" height="31" fill="#ff0a0a"/>
<rect x="1035" y="459" width="5" height="19" fill="#b22833"/>
<rect x="1036" y="460" width="3" height="17" fill="#f7525f"/>
<rect x="1043" y="473" width="1" height="18" fill="#ff0a0a"/>
<rect x="1041" y="477" width="5" height="6" fill="#b22833"/>
<rect x="1042" y="478" width="3" height="4" fill="#f7525f"/>
<rect x="1049" y="472" width="1" height="15" fill="#12a012"/>
<rect x="1047" y="474" width="5" height="9" fill="#1b5e20"/>
<rect x="1048" y="475" width="3" height="7" fill="#66bb6a"/>
<rect x="1054" y="471" width="1" height="10" fill="#12a012"/>
<rect x="1052" y="473" width="5" height="1" fill="#1b5e20"/>
<line x1="13" y1="473.5" x2="1417" y2="473.5" stroke="#43a047" stroke-width="1" stroke-dasharray="1 2"/>
</g>
<rect x="1417" y="34" width="1" height="676" fill="#8f8784"/>
<rect x="13" y="34" width="1470" height="676" fill="none" stroke="#77716f" stroke-width="1" transform="translate(0.5,0.5)"/>
<rect x="13" y="671" width="1471" height="1" fill="#8f8784"/>
<line x1="788.5" y1="307.0" x2="1105.6" y2="498.0" stroke="#131722" stroke-width="1.85" stroke-linecap="round" shape-rendering="auto"/>
<line x1="754.2" y1="468.2" x2="1105.6" y2="506.1" stroke="#131722" stroke-width="1.85" stroke-linecap="round" shape-rendering="auto"/>
<g shape-rendering="auto" stroke="#16a016" stroke-width="2.1" stroke-linecap="round" fill="none">
<line x1="1065.6" y1="470.4" x2="1121.5" y2="330.2"/>
<polyline points="1105.9,336.2 1121.5,330.2 1129.3,345.4" stroke-linejoin="round"/>
</g>
<text x="1001" y="323" font-family="Liberation Sans" font-style="italic" font-size="18.8" letter-spacing="0.1" fill="#1e222d" stroke="#1e222d" stroke-width="0.7" shape-rendering="auto">Projected Price Target</text>
<text x="985" y="547.5" font-family="Liberation Sans" font-style="italic" font-size="18.5" fill="#1e222d" stroke="#1e222d" stroke-width="0.7" shape-rendering="auto">Falling Wedge Pattern</text>
<g fill="#d1d4dc">
<path d="M13,726.8 H22.8 V738.9 H17.9 V731.6 H13 Z"/>
<circle cx="26.8" cy="729.4" r="2.6" shape-rendering="auto"/>
<path d="M31.7,726.8 H37.4 L33,738.9 H27.2 Z" shape-rendering="auto"/>
</g>
</svg>
<div class="pl" style="top:103.2px">3.000</div>
<div class="pl" style="top:156.5px">2.200</div>
<div class="pl" style="top:211.3px">1.600</div>
<div class="pl" style="top:260.8px">1.200</div>
<div class="pl" style="top:310.3px">0.900</div>
<div class="pl" style="top:380.0px">0.600</div>
<div class="pl" style="top:429.5px">0.450</div>
<div class="pl" style="top:499.2px">0.300</div>
<div class="pl" style="top:552.6px">0.220</div>
<div class="pl" style="top:596.9px">0.170</div>
<div class="pl" style="top:643.1px">0.130</div>
<div class="tl" style="left:60.1px;top:683px;">Jun</div>
<div class="tl" style="left:229.6px;top:683px;font-weight:bold;font-size:17.8px;">2022</div>
<div class="tl" style="left:354.0px;top:683px;">Jun</div>
<div class="tl" style="left:523.5px;top:683px;font-weight:bold;font-size:17.8px;">2023</div>
<div class="tl" style="left:647.9px;top:683px;">Jun</div>
<div class="tl" style="left:817.5px;top:683px;font-weight:bold;font-size:17.8px;">2024</div>
<div class="tl" style="left:941.8px;top:683px;">Jun</div>
<div class="tl" style="left:1117.0px;top:683px;font-weight:bold;font-size:17.8px;">2025</div>
<div class="tl" style="left:1235.7px;top:683px;">Jun</div>
<div style="position:absolute;left:1418px;top:316px;width:62px;height:25px;background:#00bcd4;border-radius:0 2px 2px 0;"></div>
<div class="pl" style="top:320.5px">0.853</div>
<div style="position:absolute;left:1418px;top:461px;width:62px;height:25px;background:#66bb6a;border-radius:0 3px 3px 0;"></div>
<div class="pl" style="top:465.3px">0.367</div>
<div style="position:absolute;left:1421.5px;top:38.5px;width:59px;height:32.5px;background:#fff;border-radius:5px;box-shadow:0 0 0 1px rgba(60,60,80,0.10);"></div>
<div class="t" style="left:1434px;top:47px;font-size:17.5px;color:#131722;transform:scaleX(0.81);transform-origin:left top;">USD</div>
<div style="position:absolute;left:13px;top:672px;width:1404px;height:38px;overflow:hidden;"><div class="tl" style="left:1397.9px;top:11px;font-weight:bold;font-size:17.8px;">2026</div></div>
<div class="t" style="left:23px;top:47px;font-size:14.3px;color:#131722;">Cardano / US Dollar, 1W, BINANCE</div>
<div class="t" style="left:260.5px;top:47px;font-size:14.3px;color:#131722;">O<span style="color:#1f6f24">0.365</span></div>
<div class="t" style="left:316.5px;top:47px;font-size:14.3px;color:#131722;">H<span style="color:#1f6f24">0.373</span></div>
<div class="t" style="left:373px;top:47px;font-size:14.3px;color:#131722;">L<span style="color:#1f6f24">0.353</span></div>
<div class="t" style="left:426px;top:47px;font-size:14.3px;color:#131722;">C<span style="color:#1f6f24">0.367</span></div>
<div class="t" style="left:481.5px;top:47px;font-size:14.3px;color:#1f6f24;">+0.002 (+0.55%)</div>
<div class="t" style="left:23px;top:68px;font-size:14.3px;color:#131722;">Vol · ADA</div>
<div class="t" style="left:94.5px;top:68px;font-size:14.3px;color:#1e9b91;">11.039 M</div>
<div class="t" style="left:42px;top:726px;font-size:16px;color:#d1d4dc;">TradingView</div>
</body></html>
